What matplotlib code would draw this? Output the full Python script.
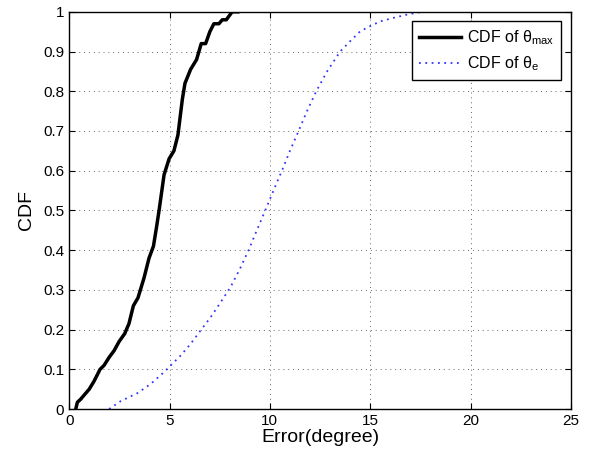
import matplotlib
matplotlib.use("Agg")
import matplotlib.pyplot as plt

# CDF of theta_max (black solid)
x_max = [0.33, 0.41, 0.58, 0.66, 0.83, 1.0, 1.24, 1.54, 1.74, 1.99, 2.24, 2.49,
         2.77, 2.98, 3.2, 3.43, 3.73, 3.98, 4.2, 4.36, 4.48, 4.73, 4.98, 5.22,
         5.42, 5.64, 5.77, 6.05, 6.35, 6.58, 6.8, 7.01, 7.21, 7.46, 7.63, 7.83,
         8.12, 8.4]
y_max = [0.0, 0.017, 0.025, 0.03, 0.04, 0.05, 0.07, 0.10, 0.11, 0.13, 0.147, 0.17,
         0.19, 0.215, 0.26, 0.28, 0.33, 0.38, 0.41, 0.46, 0.50, 0.59, 0.63, 0.65,
         0.69, 0.78, 0.82, 0.855, 0.88, 0.92, 0.92, 0.95, 0.97, 0.97, 0.98, 0.98,
         1.0, 1.0]

# CDF of theta_e (blue dotted)
x_e = [1.99, 2.57, 3.4, 4.06, 4.73, 5.06, 5.56, 6.05, 6.55, 7.05, 7.55, 8.04,
       8.5, 8.94, 9.35, 9.77, 10.18, 10.6, 11.0, 11.43, 11.85, 12.31, 12.85,
       13.5, 14.0, 14.5, 15.0, 15.5, 16.17, 16.83, 17.58]
y_e = [0.0, 0.02, 0.04, 0.063, 0.093, 0.11, 0.135, 0.164, 0.198, 0.231, 0.269,
       0.307, 0.352, 0.4, 0.45, 0.5, 0.55, 0.6, 0.65, 0.7, 0.75, 0.8, 0.85,
       0.9, 0.926, 0.951, 0.964, 0.976, 0.985, 0.993, 1.0]

x_ticks = [0, 5, 10, 15, 20, 25]
y_ticks = [0, 0.1, 0.2, 0.3, 0.4, 0.5, 0.6, 0.7, 0.8, 0.9, 1]
y_labels = ["0", "0.1", "0.2", "0.3", "0.4", "0.5", "0.6", "0.7", "0.8", "0.9", "1"]

plt.rcParams["font.family"] = ["Liberation Sans", "DejaVu Sans"]
plt.rcParams["mathtext.fontset"] = "custom"
plt.rcParams["mathtext.rm"] = "Liberation Sans"
plt.rcParams["mathtext.it"] = "Liberation Sans"

fig = plt.figure(figsize=(5.96, 4.55), dpi=100)
ax = fig.add_axes([0.116, 0.101, 0.842, 0.873])

ax.plot(x_max, y_max, color="black", linewidth=2.5,
        label=r"CDF of $\mathrm{\theta}_{\mathrm{max}}$")
ax.plot(x_e, y_e, color="blue", linestyle=(0, (1, 2.5)), linewidth=1.3,
        alpha=0.8, label=r"CDF of $\mathrm{\theta}_{\mathrm{e}}$")

ax.set_xlim(0, 25)
ax.set_ylim(0, 1)
ax.set_xticks(x_ticks)
ax.set_yticks(y_ticks)
ax.set_yticklabels(y_labels)
ax.tick_params(direction="in", top=True, right=True, labelsize=11, length=4, width=0.8)
ax.grid(True, linestyle=(0, (1, 4)), color="black", linewidth=0.7, alpha=0.6)

for s in ax.spines.values():
    s.set_linewidth(1.0)

ax.set_xlabel("Error(degree)", fontsize=14, labelpad=1)
ax.set_ylabel("CDF", fontsize=14, labelpad=6)

leg = ax.legend(loc="upper right", fontsize=11.5, fancybox=False, framealpha=1,
                edgecolor="black", borderaxespad=0.6, handlelength=2.6,
                handletextpad=0.4, labelspacing=0.45, borderpad=0.45)
leg.get_frame().set_linewidth(1.0)

fig.savefig("out.png", dpi=100)
